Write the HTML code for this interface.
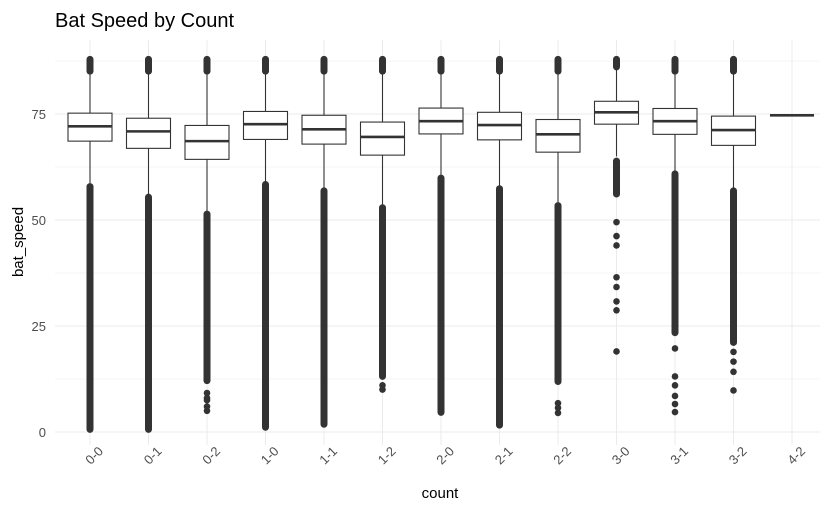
<!DOCTYPE html>
<html><head><meta charset="utf-8"><style>
body{margin:0;background:#fff;}
svg{display:block;font-family:"Liberation Sans",sans-serif;}
</style></head><body>
<svg id="chart" width="830" height="512">
<text x="55" y="27" font-size="20" fill="#000">Bat Speed by Count</text>
<text x="440" y="498" font-size="15" text-anchor="middle" fill="#000">count</text>
<text transform="translate(23,242) rotate(-90)" font-size="15" text-anchor="middle" fill="#000">bat_speed</text>
<g id="grid"></g><g id="marks"></g><g id="axes"></g>
</svg>
<script>
const categories=["0-0","0-1","0-2","1-0","1-1","1-2","2-0","2-1","2-2","3-0","3-1","3-2","4-2"];
const q1=[68.6,66.9,64.3,69.0,67.9,65.3,70.3,68.9,66.0,72.6,70.2,67.6,74.7];
const medians=[72.1,70.9,68.6,72.6,71.4,69.6,73.3,72.4,70.2,75.4,73.3,71.2,74.7];
const q3=[75.2,74.0,72.3,75.6,74.7,73.1,76.4,75.4,73.7,78.0,76.3,74.5,74.7];
const whiskerLow=[58.5,56,52,59,57.5,53.5,60.5,58,54,65,61.4,57.5,74.7];
const whiskerHigh=[84.7,84.7,84.7,84.7,84.7,84.7,84.7,84.7,84.7,85.4,84.7,84.7,74.7];
const denseHighMin=[85,85,85,85,85,85,85,85,85,86,85,85,null];
const denseHighMax=[88,88,88,88,88,88,88,88,88,88,88,88,null];
const denseLowMin=[0.5,0.5,12,1,1.7,13,4.5,1.5,11.8,56,23.3,21,null];
const denseLowMax=[58,55.5,51.5,58.5,57,53,60,57.5,53.5,64,61,57,null];
const sparsePoints=[[],[],[9.2,8,7.5,6,5],[],[],[11,10],[],[],[6.8,5.7,4.5],
 [49.5,46.2,44,36.5,34.2,30.8,28.7,19],[19.7,13.1,11,8.5,6.6,4.7],[18.9,16.6,14.2,9.8],[]];
const yTicks=[0,25,50,75];
const yMinor=[12.5,37.5,62.5,87.5];

const NS="http://www.w3.org/2000/svg";
const L=55,R=820,T=40,B=445;
const y=v=>432-v*4.24;
const x=i=>90+i*58.5;
const BW=44;
function mk(tag,attrs,parent){const e=document.createElementNS(NS,tag);for(const k in attrs)e.setAttribute(k,attrs[k]);parent.appendChild(e);return e;}
const grid=document.getElementById('grid'),marks=document.getElementById('marks'),axes=document.getElementById('axes');
yMinor.forEach(v=>{const l=mk('line',{x1:L,x2:R,y1:y(v),y2:y(v),stroke:'#f3f3f3','stroke-width':0.7},grid);

});
yTicks.forEach(v=>{const l=mk('line',{x1:L,x2:R,y1:y(v),y2:y(v),stroke:'#ebebeb','stroke-width':1},grid);


const t=mk('text',{x:46,y:y(v)+5,'text-anchor':'end','font-size':13,fill:'#4d4d4d'},axes);t.textContent=v;

});
categories.forEach((c,i)=>{const cx=x(i);
const g=mk('line',{x1:cx,x2:cx,y1:T,y2:B,stroke:'#ebebeb','stroke-width':1},grid);


const t=mk('text',{transform:`translate(${cx+14},${452}) rotate(-45)`,'text-anchor':'end','font-size':13,fill:'#4d4d4d'},axes);t.textContent=c;


const bg=mk('g',{},marks);


mk('line',{x1:cx,x2:cx,y1:y(whiskerHigh[i]),y2:y(q3[i]),stroke:'#333','stroke-width':1.1},bg);
mk('line',{x1:cx,x2:cx,y1:y(q1[i]),y2:y(whiskerLow[i]),stroke:'#333','stroke-width':1.1},bg);
if(q3[i]>q1[i])mk('rect',{x:cx-BW/2,y:y(q3[i]),width:BW,height:y(q1[i])-y(q3[i]),fill:'#fff',stroke:'#333','stroke-width':1.1},bg);
mk('line',{x1:cx-BW/2,x2:cx+BW/2,y1:y(medians[i]),y2:y(medians[i]),stroke:'#333','stroke-width':2.6},bg);
if(denseHighMin[i]!==null){mk('rect',{x:cx-3.5,y:y(denseHighMax[i])-3,width:7,height:y(denseHighMin[i])-y(denseHighMax[i])+6,rx:3.5,fill:'#333'},bg);}
if(denseLowMin[i]!==null){mk('rect',{x:cx-3.5,y:y(denseLowMax[i])-3,width:7,height:y(denseLowMin[i])-y(denseLowMax[i])+6,rx:3.5,fill:'#333'},bg);}
sparsePoints[i].forEach(v=>{const p=mk('circle',{cx:cx,cy:y(v),r:3.3,fill:'#333'},bg);

});
});
</script>
</body></html>
